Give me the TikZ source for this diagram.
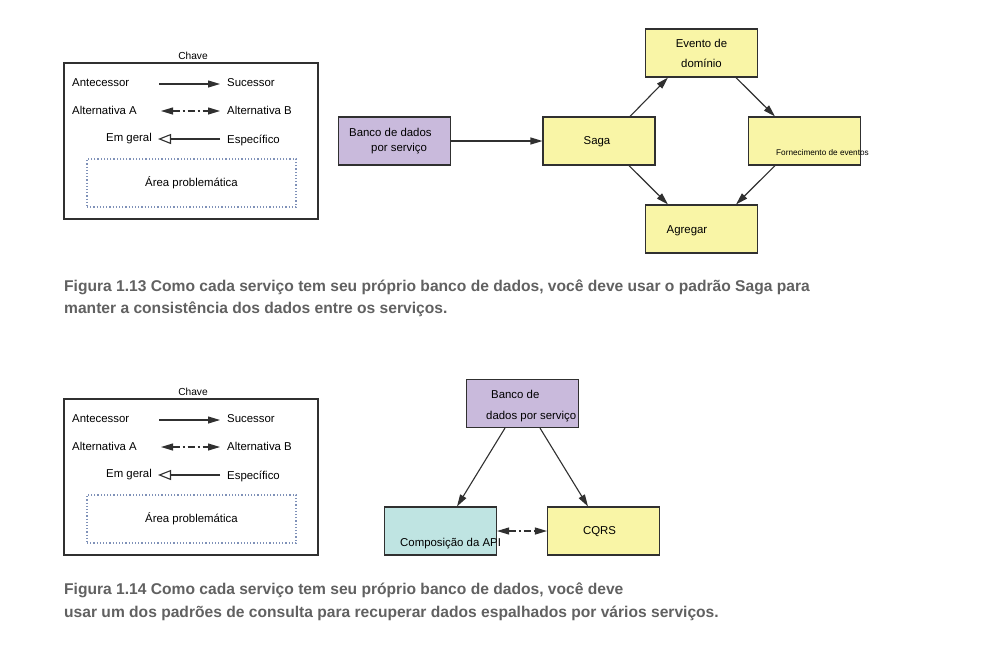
\documentclass[tikz,border=0pt]{standalone}
\usepackage{fontspec}
\setmainfont{Liberation Sans}
\usepackage{xcolor}
\definecolor{BoxLine}  {HTML}{303030}
\definecolor{DbLilac}  {HTML}{C9BADC}
\definecolor{PatYellow}{HTML}{F9F5A6}
\definecolor{ApiTeal}  {HTML}{BFE4E2}
\definecolor{AreaBlue} {HTML}{7F91B8}
\definecolor{CapGray}  {HTML}{616161}
\usetikzlibrary{arrows.meta,positioning}
\tikzset{
  keyframe/.style={rectangle,draw=BoxLine,line width=1.1pt,
    minimum width=254pt,minimum height=156pt,inner sep=0pt},
  probarea/.style={rectangle,draw=AreaBlue,dotted,line width=1.2pt,
    minimum width=209pt,minimum height=48pt,inner sep=0pt,
    font=\fontsize{11.4}{13}\selectfont},
  keytxt/.style={inner sep=0pt,font=\fontsize{11.4}{13}\selectfont},
  keytitle/.style={inner sep=0pt,font=\fontsize{10.2}{12}\selectfont},
  patbox/.style={rectangle,draw=BoxLine,fill=PatYellow,line width=1.1pt,
    minimum width=112pt,minimum height=48pt,inner sep=0pt,
    font=\fontsize{11.4}{13}\selectfont},
  dbbox/.style={patbox,fill=DbLilac},
  apibox/.style={patbox,fill=ApiTeal},
  boxtxt/.style={inner sep=0pt,font=\fontsize{11.4}{13}\selectfont},
  captxt/.style={inner sep=0pt,text=CapGray,
    font=\fontsize{15.6}{22}\selectfont\bfseries},
  flowedge/.style={-{Triangle[length=12pt,width=7pt]},BoxLine,line width=1.1pt},
  altedge/.style={{Triangle[length=12pt,width=7pt]}-{Triangle[length=12pt,width=7pt]},
    BoxLine,line width=1.1pt,dash pattern=on 7pt off 3pt on 2pt off 3pt},
  genedge/.style={-{Triangle[open,length=13pt,width=10pt]},BoxLine,line width=1.1pt},
}

\begin{document}
\begin{tikzpicture}[x=1pt,y=-1pt]
  \useasboundingbox[fill=white] (0,0) rectangle (993,665);

  % the two keys
  \foreach \k/\dy in {1/0,2/336}{
    \begin{scope}[shift={(0,\dy)}]
      \node[keyframe] (key\k) at (191,141) {};
      \node[keytitle] (key\k-title) at (193,56) {Chave};
      \node[keytxt,anchor=west] (key\k-ante) at (72,82.5) {Antecessor};
      \node[keytxt,anchor=west] (key\k-suc) at (227,82.5) {Sucessor};
      \node[keytxt,anchor=west] (key\k-alta) at (72,110.5) {Alternativa A};
      \node[keytxt,anchor=west] (key\k-altb) at (227,110.5) {Alternativa B};
      \node[keytxt,anchor=east] (key\k-gen) at (152,138.5) {Em geral};
      \node[keytxt,anchor=west] (key\k-spec) at (227,140.5) {Específico};
      \coordinate (key\k-s1) at (159,84);
      \coordinate (key\k-e1) at (220,84);
      \coordinate (key\k-s2) at (161,111);
      \coordinate (key\k-e2) at (220,111);
      \coordinate (key\k-s3) at (220,139);
      \coordinate (key\k-e3) at (158,139);
      \draw[flowedge] (key\k-s1) -- (key\k-e1);
      \draw[altedge] (key\k-s2) -- (key\k-e2);
      \draw[genedge] (key\k-s3) -- (key\k-e3);
      \node[probarea] (key\k-area) at (191.5,183) {Área problemática};
    \end{scope}
  }

  % figure 1.13
  \node[dbbox] (db1) at (394.5,141) {};
  \node[boxtxt,anchor=west] (db1-l1) at (349,132.5) {Banco de dados};
  \node[boxtxt,anchor=west] (db1-l2) at (371,148.5) {por serviço};
  \node[patbox] (saga) at (599,141) {};
  \node[boxtxt] (saga-txt) at (597,142) {Saga};
  \node[patbox,align=center,font=\fontsize{11.4}{20}\selectfont]
    (evento) at (701.5,53) {Evento de\\domínio};
  \node[patbox] (forn) at (804.5,141) {};
  \node[boxtxt,anchor=west,font=\fontsize{8.2}{10}\selectfont]
    (forn-txt) at (776,152.5) {Fornecimento de eventos};
  \node[patbox] (agregar) at (701.5,229) {};
  \node[boxtxt] (agregar-txt) at (687,230.5) {Agregar};

  \draw[flowedge] (db1.east) -- (saga.west);
  \draw[flowedge] ([xshift=31pt]saga.north) -- ([xshift=-33.5pt]evento.south);
  \draw[flowedge] ([xshift=34.5pt]evento.south) -- ([xshift=-29.5pt]forn.north);
  \draw[flowedge] ([xshift=30pt]saga.south) -- ([xshift=-33.5pt]agregar.north);
  \draw[flowedge] ([xshift=-29.5pt]forn.south) -- ([xshift=34.5pt]agregar.north);

  \node[captxt,anchor=base west] (cap1a) at (64,291)
    {Figura 1.13 Como cada serviço tem seu próprio banco de dados, você deve usar o padrão Saga para};
  \node[captxt,anchor=base west] (cap1b) at (64,313)
    {manter a consistência dos dados entre os serviços.};

  % figure 1.14
  \node[dbbox] (db2) at (522.5,403.5) {};
  \node[boxtxt,anchor=west] (db2-l1) at (491,394.5) {Banco de};
  \node[boxtxt,anchor=west] (db2-l2) at (486,416.5) {dados por serviço};
  \node[apibox] (api) at (440.5,531) {};
  \node[boxtxt,anchor=west] (api-txt) at (400,543.5) {Composição da API};
  \node[patbox] (cqrs) at (603.5,531) {};
  \node[boxtxt] (cqrs-txt) at (599.5,532) {CQRS};

  \draw[flowedge] ([xshift=-17.5pt]db2.south) -- ([xshift=16.5pt]api.north);
  \draw[flowedge] ([xshift=17.5pt]db2.south) -- ([xshift=-15.5pt]cqrs.north);
  \draw[altedge] (api.east) -- (cqrs.west);

  \node[captxt,anchor=base west] (cap2a) at (64,594)
    {Figura 1.14 Como cada serviço tem seu próprio banco de dados, você deve};
  \node[captxt,anchor=base west] (cap2b) at (64,617)
    {usar um dos padrões de consulta para recuperar dados espalhados por vários serviços.};
\end{tikzpicture}
\end{document}
